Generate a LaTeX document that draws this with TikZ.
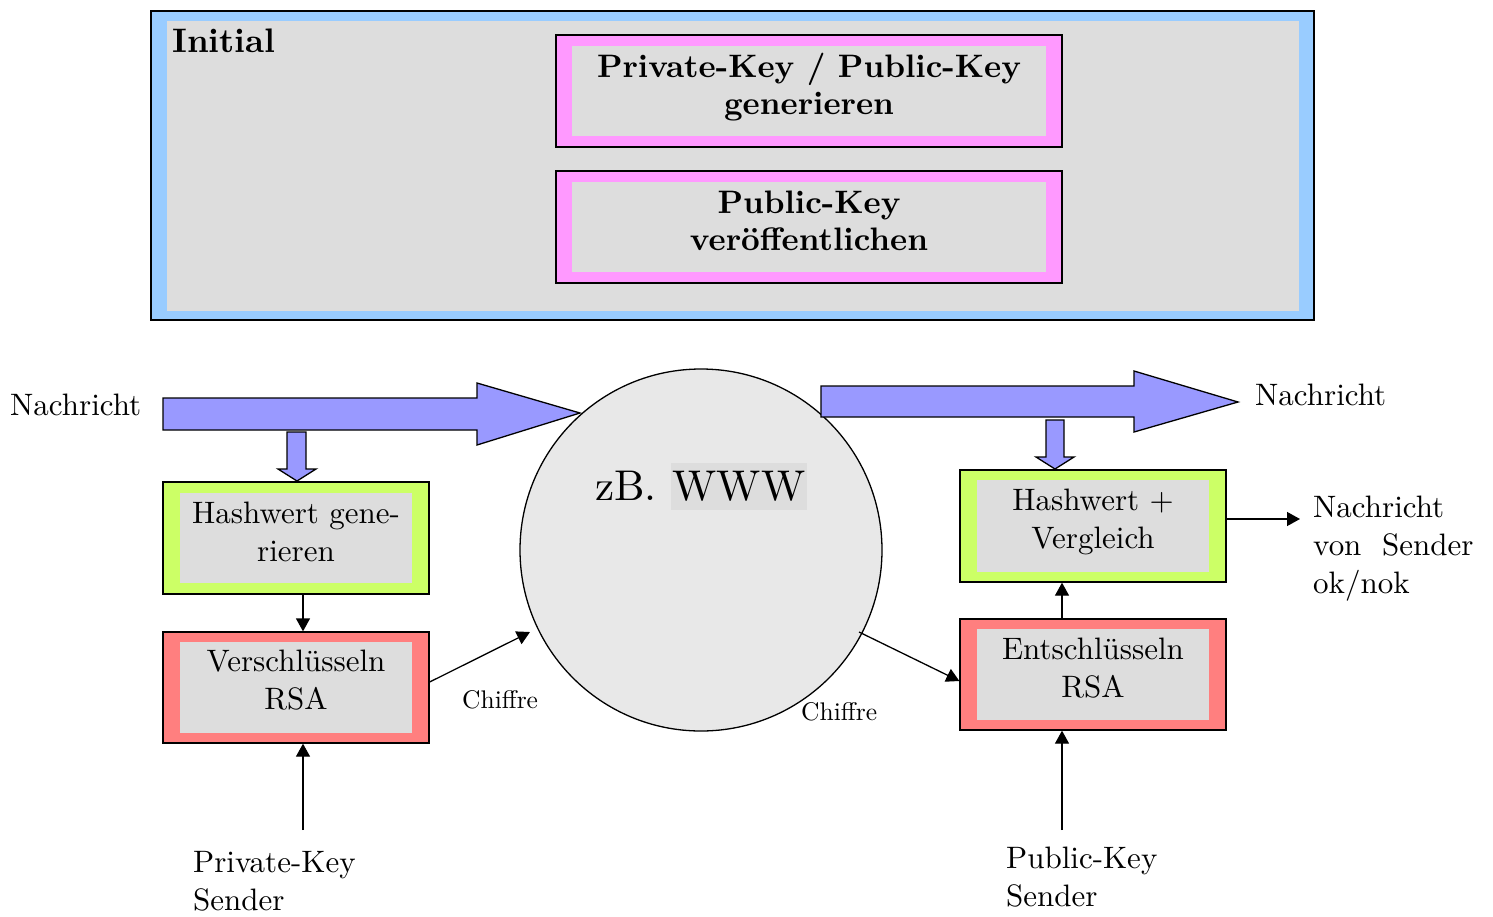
\documentclass[tikz,border=0pt]{standalone}
\usepackage{fontspec}
\setmainfont{lmroman10}[Extension=.otf, UprightFont=*-regular, BoldFont=*-bold, ItalicFont=*-italic, BoldItalicFont=*-bolditalic]
\usetikzlibrary{arrows.meta}
\definecolor{bandblue}{HTML}{99CCFF}
\definecolor{boxgray}{HTML}{DDDDDD}
\definecolor{bandpink}{HTML}{FF99FF}
\definecolor{bandgreen}{HTML}{CCFF66}
\definecolor{bandred}{HTML}{FF7F7F}
\definecolor{arrowblue}{HTML}{9999FF}
\definecolor{circgray}{HTML}{E8E8E8}
\newcommand\fnorm{\fontsize{31}{38}\selectfont}
\newcommand\fbold{\fontsize{32.5}{37}\selectfont\bfseries}
\newcommand\ftitle{\fontsize{34}{37}\selectfont\bfseries}
\newcommand\fsmall{\fontsize{25.5}{29}\selectfont}
\newcommand\fbig{\fontsize{43}{48}\selectfont}
\begin{document}
\begin{tikzpicture}[x=1pt,y=-1pt,
  bandx/.store in=\bandx, bandy/.store in=\bandy, bandx=16pt, bandy=11pt,
  bandbox/.style={draw=black, line width=1.3pt, rectangle, inner sep=0pt,
    path picture={\fill[boxgray] ([xshift=\bandx,yshift=-\bandy]path picture bounding box.north west)
      rectangle ([xshift=-\bandx,yshift=\bandy]path picture bounding box.south east);}},
  lbl/.style={inner sep=0pt, align=center, anchor=base},
  lbll/.style={inner sep=0pt, align=left, anchor=base west},
  conn/.style={-{Triangle[length=13pt,width=14pt]}, line width=1.3pt},
  blockarrow/.style={draw=black, line width=1.3pt, fill=arrowblue, line join=miter}]
\useasboundingbox (0,0) rectangle (1493,916);

% Initial frame (multi-line labels are anchored at the baseline of their last line)
\node[bandbox, fill=bandblue, bandx=15.5pt, bandy=9.5pt, minimum width=1163pt, minimum height=309pt] (init) at (732.5,165.5) {};
\node[lbll, font=\ftitle] (initlbl) at (172,52) {Initial};
\node[bandbox, fill=bandpink, minimum width=506pt, minimum height=112pt] (genkey) at (809,91) {};
\node[lbl, font=\fbold] (genkeylbl) at (809,114) {Private-Key / Public-Key\\generieren};
\node[bandbox, fill=bandpink, minimum width=506pt, minimum height=112pt] (pubkey) at (809,227) {};
\node[lbl, font=\fbold] (pubkeylbl) at (809,250) {Public-Key\\veröffentlichen};

% circle
\node[circle, draw=black, line width=1.3pt, fill=circgray, minimum size=362pt, inner sep=0pt] (www) at (701,550) {};
\node[lbl, font=\fbig] (wwwlbl) at (701,500) {zB. {\setlength{\fboxsep}{1.5pt}\colorbox{boxgray}{\rule[-8.5pt]{0pt}{44pt}WWW}}};

% left side
\node[bandbox, fill=bandgreen, bandx=17pt, minimum width=266pt, minimum height=112pt] (hash1) at (296,538) {};
\node[lbl, font=\fnorm] (hash1lbl) at (296,561) {Hashwert gene-\\rieren};
\node[bandbox, fill=bandred, bandx=17pt, bandy=10pt, minimum width=266pt, minimum height=111pt] (enc) at (296,687.5) {};
\node[lbl, font=\fnorm] (enclbl) at (296,709) {Verschlüsseln\\RSA};

% right side
\node[bandbox, fill=bandgreen, bandx=17pt, bandy=10pt, minimum width=266pt, minimum height=112pt] (hash2) at (1093,526) {};
\node[lbl, font=\fnorm] (hash2lbl) at (1093,548) {Hashwert +\\Vergleich};
\node[bandbox, fill=bandred, bandx=17pt, bandy=10pt, minimum width=266pt, minimum height=111pt] (dec) at (1093,674.5) {};
\node[lbl, font=\fnorm] (declbl) at (1093,697) {Entschlüsseln\\RSA};

% texts
\node[lbll, font=\fnorm] (msgin) at (10,415) {Nachricht};
\node[lbll, font=\fnorm] (msgout) at (1255,405) {Nachricht};
\node[lbll, font=\fnorm] (result) at (1313,593) {Nachricht\\von\ \ Sender\\ok/nok};
\node[lbll, font=\fnorm] (privk) at (193,910) {Private-Key\\Sender};
\node[lbll, font=\fnorm] (pubk) at (1006,906) {Public-Key\\Sender};
\node[lbll, font=\fsmall] (chif1) at (462,708) {Chiffre};
\node[lbll, font=\fsmall] (chif2) at (801,720) {Chiffre};

% block arrows
\draw[blockarrow] (163,398) -- (477,398) -- (477,383) -- (580,413) -- (477,445) -- (477,430) -- (163,430) -- cycle;
\draw[blockarrow] (287,432) -- (306,432) -- (306,469) -- (316,469) -- (297,481) -- (278,469) -- (287,469) -- cycle;
\draw[blockarrow] (821,386) -- (1134,386) -- (1134,371) -- (1238,402) -- (1134,432) -- (1134,417) -- (821,417) -- cycle;
\draw[blockarrow] (1046,420) -- (1064,420) -- (1064,457) -- (1074,457) -- (1055,469) -- (1036,457) -- (1046,457) -- cycle;

% connectors
\coordinate (pkstart) at (303,830);
\coordinate (pubstart) at (1062,830);
\coordinate (c1) at (530,632);
\coordinate (c2) at (859,632);
\coordinate (outend) at (1300,519);
\draw[conn] ([xshift=7pt]hash1.south) -- ([xshift=7pt]enc.north);
\draw[conn] (pkstart) -- (pkstart |- enc.south);
\draw[conn] ([yshift=5.5pt]enc.east) -- (c1);
\draw[conn] (c2) -- ([yshift=-6.5pt]dec.west);
\draw[conn] (pubstart) -- (pubstart |- dec.south);
\draw[conn] ([xshift=-31pt]dec.north) -- ([xshift=-31pt]hash2.south);
\draw[conn] ([yshift=7pt]hash2.east) -- (outend);
\end{tikzpicture}
\end{document}
